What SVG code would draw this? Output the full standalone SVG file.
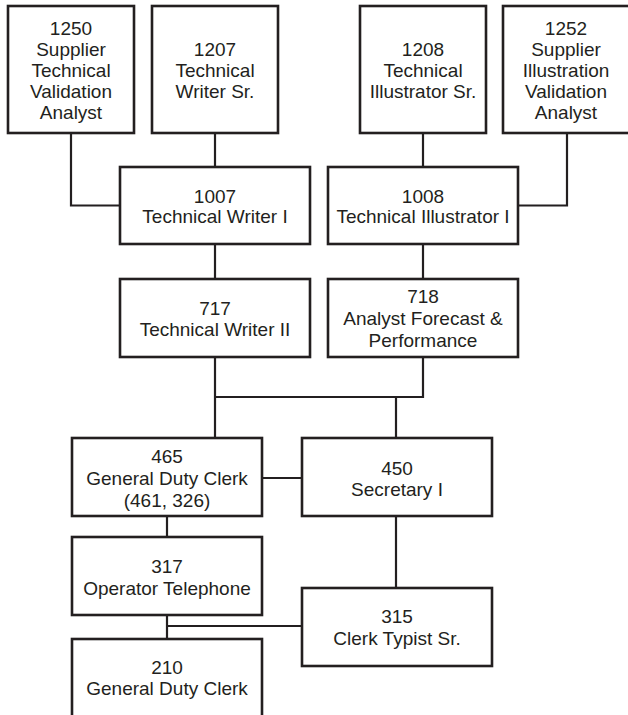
<svg xmlns="http://www.w3.org/2000/svg" width="628" height="715" viewBox="0 0 628 715">
<style>
.box{fill:#fff;stroke:#231f20;stroke-width:2.6}
.c{fill:none;stroke:#231f20;stroke-width:2.2}
text{font-family:"Liberation Sans",Arial,sans-serif;font-size:19px;fill:#231f20;text-anchor:middle}
</style>
<rect width="628" height="715" fill="#fff"/>
<g id="connectors">
<path class="c" d="M71 133V205.5H120"/>
<path class="c" d="M215 133V167"/>
<path class="c" d="M423 133V167"/>
<path class="c" d="M567 132V205.5H518"/>
<path class="c" d="M215 244V279"/>
<path class="c" d="M423 244V279"/>
<path class="c" d="M215 357V438"/>
<path class="c" d="M423 357V397H215"/>
<path class="c" d="M396 397V438"/>
<path class="c" d="M262 478H302"/>
<path class="c" d="M167 516V537"/>
<path class="c" d="M396 516V588"/>
<path class="c" d="M167 615V639"/>
<path class="c" d="M167 626H302"/>
</g>
<g id="n1250"><rect class="box" x="8" y="6" width="126" height="127"/><text x="71" y="35">1250</text><text x="71" y="56">Supplier</text><text x="71" y="77">Technical</text><text x="71" y="98">Validation</text><text x="71" y="119">Analyst</text></g>
<g id="n1207"><rect class="box" x="152" y="6" width="126" height="127"/><text x="215" y="56">1207</text><text x="215" y="77">Technical</text><text x="215" y="98">Writer Sr.</text></g>
<g id="n1208"><rect class="box" x="360" y="6" width="126" height="127"/><text x="423" y="56">1208</text><text x="423" y="77">Technical</text><text x="423" y="98">Illustrator Sr.</text></g>
<g id="n1252"><rect class="box" x="503" y="6" width="127" height="127"/><text x="566" y="35">1252</text><text x="566" y="56">Supplier</text><text x="566" y="77">Illustration</text><text x="566" y="98">Validation</text><text x="566" y="119">Analyst</text></g>
<g id="n1007"><rect class="box" x="120" y="167" width="190" height="77"/><text x="215" y="203">1007</text><text x="215" y="223">Technical Writer I</text></g>
<g id="n1008"><rect class="box" x="328" y="167" width="190" height="77"/><text x="423" y="203">1008</text><text x="423" y="223">Technical Illustrator I</text></g>
<g id="n717"><rect class="box" x="120" y="279" width="190" height="78"/><text x="215" y="315">717</text><text x="215" y="336">Technical Writer II</text></g>
<g id="n718"><rect class="box" x="328" y="279" width="190" height="78"/><text x="423" y="303">718</text><text x="423" y="325">Analyst Forecast &amp;</text><text x="423" y="347">Performance</text></g>
<g id="n465"><rect class="box" x="72" y="438" width="190" height="78"/><text x="167" y="463">465</text><text x="167" y="485">General Duty Clerk</text><text x="167" y="507">(461, 326)</text></g>
<g id="n450"><rect class="box" x="302" y="438" width="190" height="78"/><text x="397" y="475">450</text><text x="397" y="496">Secretary I</text></g>
<g id="n317"><rect class="box" x="72" y="537" width="190" height="78"/><text x="167" y="573">317</text><text x="167" y="595">Operator Telephone</text></g>
<g id="n315"><rect class="box" x="302" y="588" width="190" height="78"/><text x="397" y="623">315</text><text x="397" y="645">Clerk Typist Sr.</text></g>
<g id="n210"><rect class="box" x="72" y="639" width="190" height="90"/><text x="167" y="674">210</text><text x="167" y="695">General Duty Clerk</text></g>
</svg>
